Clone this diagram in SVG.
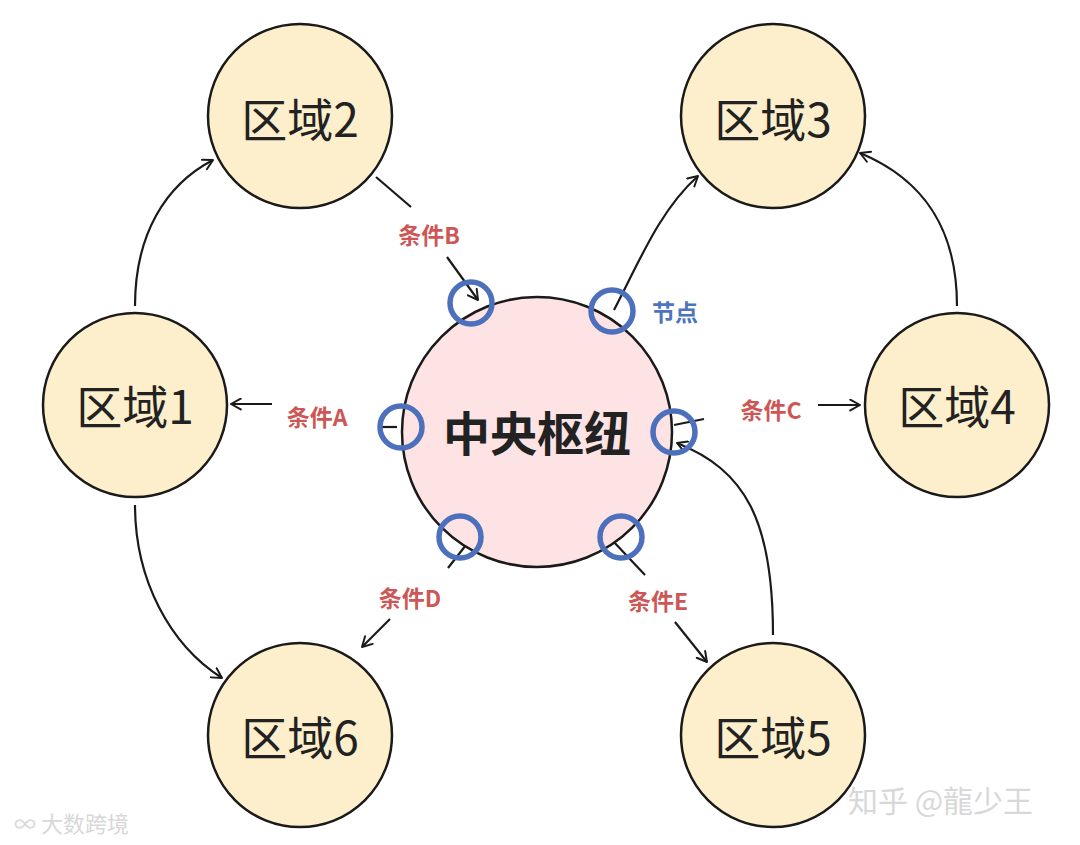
<svg xmlns="http://www.w3.org/2000/svg" width="1080" height="845" viewBox="0 0 1080 845">
<defs>
<marker id="arr" viewBox="0 0 12 12" refX="10" refY="6" markerWidth="13" markerHeight="13" markerUnits="userSpaceOnUse" orient="auto">
<path d="M1 1 L10 6 L1 11" fill="none" stroke="#1a1a1a" stroke-width="1.8" stroke-linecap="round" stroke-linejoin="round"/>
</marker>
<style>
.region{fill:#fdefcb;stroke:#1a1a1a;stroke-width:2.5}
.hub{fill:#fde3e4;stroke:#1a1a1a;stroke-width:2.5}
.rt{font-family:"Noto Sans CJK SC","Noto Sans",sans-serif;font-size:46px;fill:#222;text-anchor:middle;dominant-baseline:central}
.ht{font-family:"Noto Sans CJK SC","Noto Sans",sans-serif;font-size:47px;font-weight:bold;fill:#222;text-anchor:middle;dominant-baseline:central}
.lbl{font-family:"Noto Sans CJK SC","Noto Sans",sans-serif;font-size:23px;font-weight:bold;fill:#cd5756;text-anchor:middle;dominant-baseline:central}
.blue{fill:#4d74bd}
.ring{fill:none;stroke:#4d70bd;stroke-width:5.5}
.c{fill:none;stroke:#1a1a1a;stroke-width:2.2}
.wm{font-family:"Noto Sans CJK SC","Noto Sans",sans-serif;fill:#d8d8d8}
</style>
</defs>
<rect width="1080" height="845" fill="#ffffff"/>
<g id="connectors">
<path class="c" d="M135 306 C135 235 165 185 213 160" marker-end="url(#arr)"/>
<path class="c" d="M376 177 L411 207"/>
<path class="c" d="M447 257 L478 300" marker-end="url(#arr)"/>
<path class="c" d="M614 310 C640 260 660 210 698 176" marker-end="url(#arr)"/>
<path class="c" d="M957 306 C957 230 925 180 860 153" marker-end="url(#arr)"/>
<path class="c" d="M378 427 L397 427"/>
<path class="c" d="M272 404 L231 404" marker-end="url(#arr)"/>
<path class="c" d="M674 425 L704 419"/>
<path class="c" d="M818 405 L860 405" marker-end="url(#arr)"/>
<path class="c" d="M773 635 C773 520 745 470 677 443" marker-end="url(#arr)"/>
<path class="c" d="M466 545 L448 568"/>
<path class="c" d="M390 619 L362 647" marker-end="url(#arr)"/>
<path class="c" d="M612 540 L645 575"/>
<path class="c" d="M675 622 L707 662" marker-end="url(#arr)"/>
<path class="c" d="M135 505 C135 580 170 645 222 678" marker-end="url(#arr)"/>
</g>
<g id="hub">
<circle class="hub" cx="537" cy="432" r="135"/>
<text class="ht" x="537" y="430">中央枢纽</text>
</g>
<g id="region1"><circle class="region" cx="135" cy="405" r="92"/><text class="rt" x="135" y="404">区域1</text></g>
<g id="region2"><circle class="region" cx="300" cy="116" r="92"/><text class="rt" x="300" y="117">区域2</text></g>
<g id="region3"><circle class="region" cx="773" cy="116" r="92"/><text class="rt" x="773" y="117">区域3</text></g>
<g id="region4"><circle class="region" cx="957" cy="405" r="92"/><text class="rt" x="957" y="404">区域4</text></g>
<g id="region5"><circle class="region" cx="773" cy="735" r="92"/><text class="rt" x="773" y="735">区域5</text></g>
<g id="region6"><circle class="region" cx="300" cy="735" r="92"/><text class="rt" x="300" y="735">区域6</text></g>
<g id="nodes">
<circle class="ring" cx="471" cy="303" r="21"/>
<circle class="ring" cx="612" cy="311" r="21"/>
<circle class="ring" cx="401" cy="427" r="21"/>
<circle class="ring" cx="674" cy="432" r="21"/>
<circle class="ring" cx="460" cy="537" r="21"/>
<circle class="ring" cx="621" cy="537" r="21"/>
</g>
<g id="labels">
<text class="lbl" x="429" y="234">条件B</text>
<text class="lbl blue" x="675" y="311">节点</text>
<text class="lbl" x="317" y="416">条件A</text>
<text class="lbl" x="771" y="409">条件C</text>
<text class="lbl" x="410" y="597">条件D</text>
<text class="lbl" x="658" y="600">条件E</text>
</g>
<g id="watermarks">
<text class="wm" x="848" y="812" font-size="30">知乎 @龍少王</text>
<text class="wm" x="14" y="832" font-size="22" fill="#e4e4e4">∞ 大数跨境</text>
</g>
</svg>
